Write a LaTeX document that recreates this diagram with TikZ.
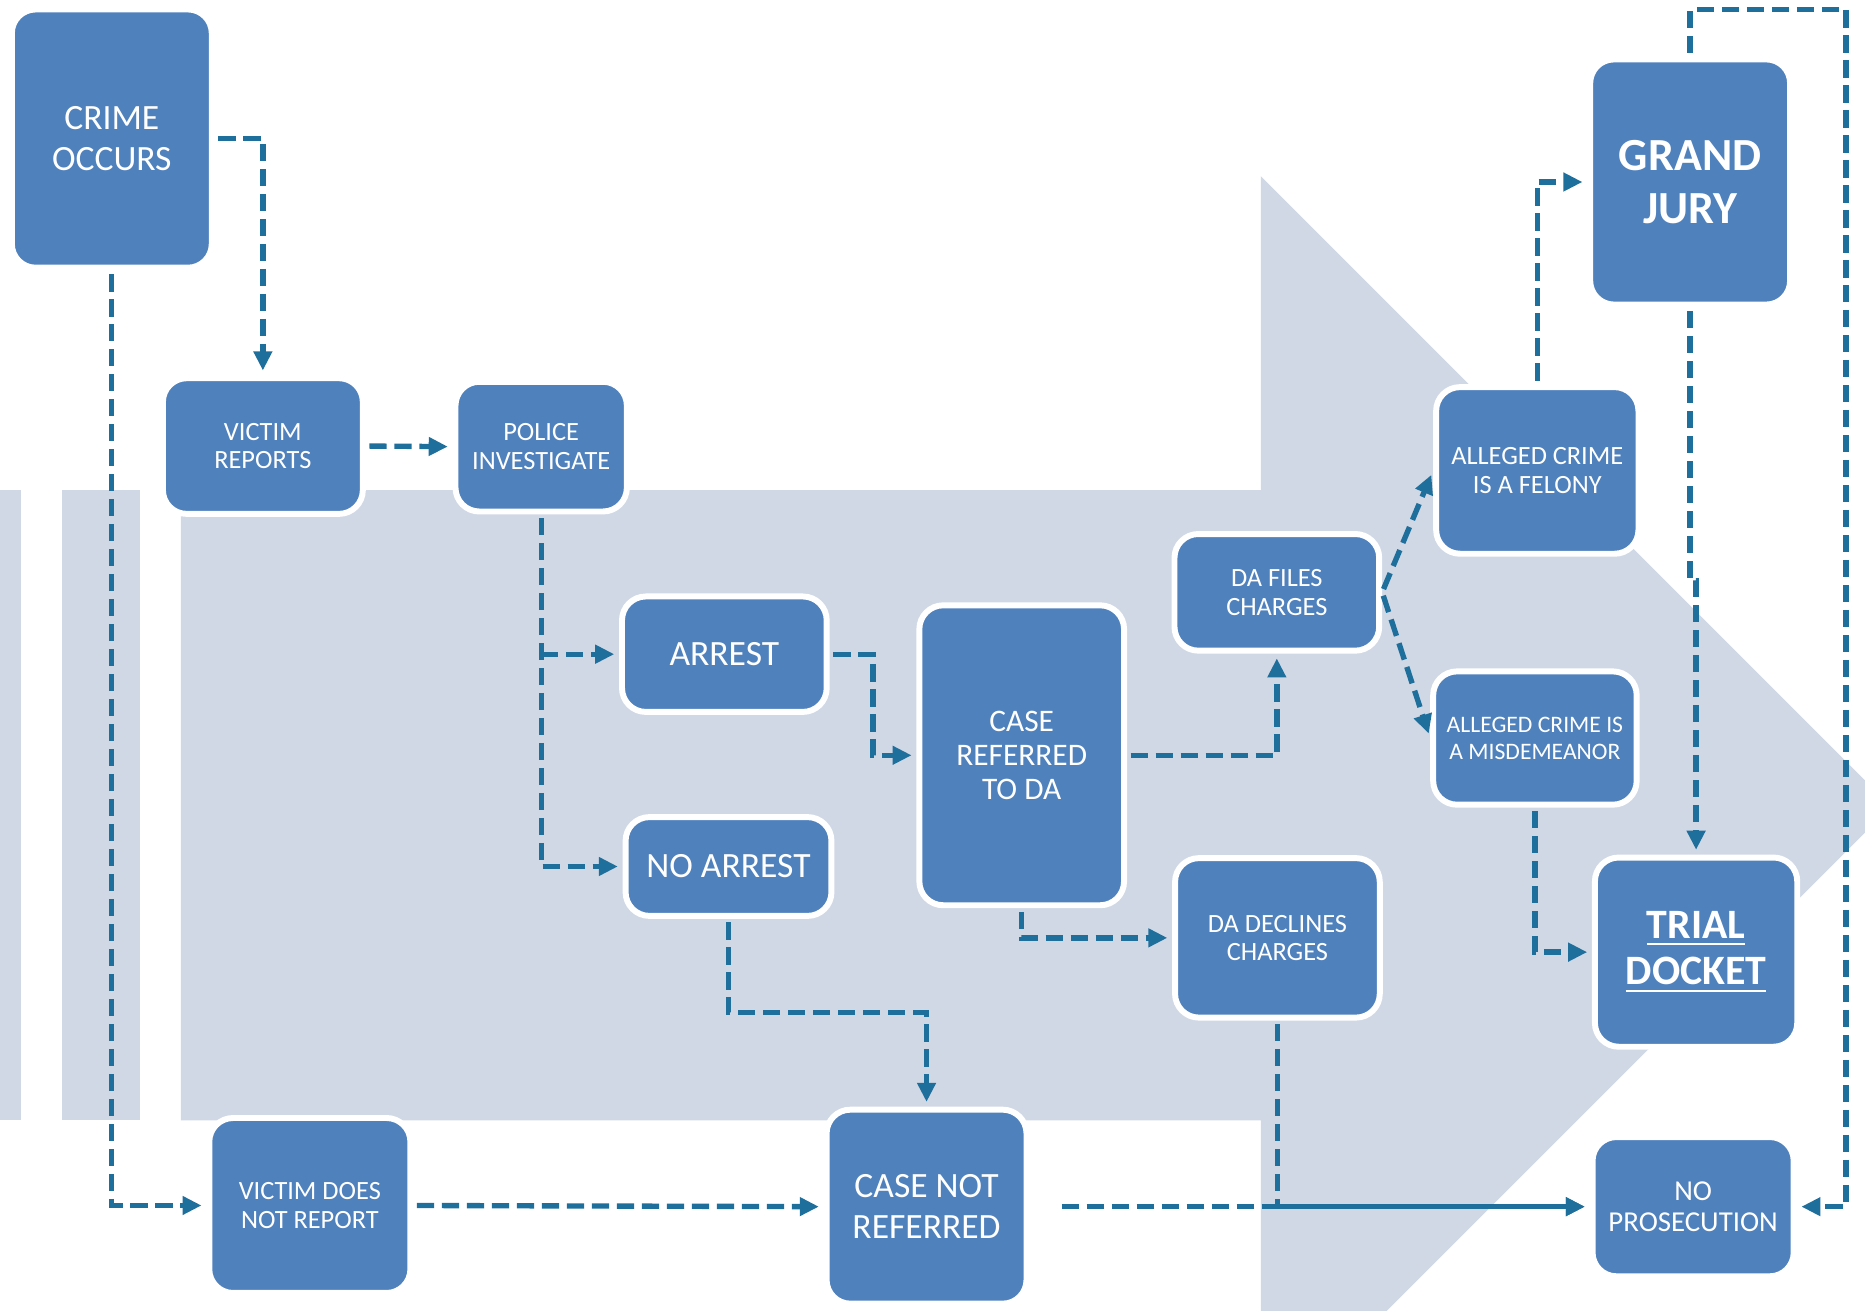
\documentclass[tikz,border=0pt]{standalone}
\usepackage{fontspec}
\setmainfont{Carlito}
\usetikzlibrary{arrows.meta,calc}
\definecolor{boxblue}{RGB}{79,129,189}
\definecolor{flowblue}{RGB}{31,111,156}
\definecolor{bgarrow}{RGB}{208,216,230}

\begin{document}
\begin{tikzpicture}[x=0.01cm,y=-0.01cm,
    box/.style={draw=white,line width=0.05cm,fill=boxblue,rounded corners=0.2cm,
      text=white,align=center,inner sep=0pt},
    small/.style={font=\fontsize{6.3}{6.8}\selectfont},
    big/.style={font=\fontsize{8.5}{9.7}\selectfont},
    flow/.style={draw=flowblue,line width=0.045cm,dash pattern=on 0.145cm off 0.065cm,
      -{Triangle[length=0.16cm,width=0.15cm]},shorten <=0.03cm,shorten >=0.04cm}]
  \useasboundingbox (0,0) rectangle (1568,1102);
  % big arrow behind the boxes
  \begin{scope}
    \clip (0,0) rectangle (1568,1102);
    \fill[bgarrow] (0,412) rectangle (18,942);
    \fill[bgarrow] (52,412) rectangle (118,942);
    \fill[bgarrow] (152,412) -- (1060,412) -- (1060,148) -- (1590,678)
      -- (1060,1208) -- (1060,942) -- (152,942) -- cycle;
  \end{scope}

  \node[box,big,minimum width=1.68cm,minimum height=2.17cm] (crime) at (94,116.5) {CRIME\\OCCURS};
  \node[box,small,minimum width=1.68cm,minimum height=1.14cm] (vreport) at (221,375) {VICTIM\\REPORTS};
  \node[box,small,minimum width=1.44cm,minimum height=1.09cm] (police) at (455,375.5) {POLICE\\INVESTIGATE};
  \node[box,big,minimum width=1.72cm,minimum height=0.97cm] (arrest) at (609,550) {ARREST};
  \node[box,big,minimum width=1.73cm,minimum height=0.83cm] (noarrest) at (612.5,728.5) {NO ARREST};
  \node[box,font=\fontsize{7.5}{8.1}\selectfont,minimum width=1.72cm,minimum height=2.52cm] (case) at (859,635) {CASE\\REFERRED\\TO DA};
  \node[box,small,minimum width=1.72cm,minimum height=0.98cm] (dafiles) at (1073.5,498) {DA FILES\\CHARGES};
  \node[box,small,minimum width=1.72cm,minimum height=1.34cm] (dadecl) at (1074,788.5) {DA DECLINES\\CHARGES};
  \node[box,small,minimum width=1.70cm,minimum height=1.40cm] (felony) at (1292.5,395.5) {ALLEGED CRIME\\IS A FELONY};
  \node[box,font=\fontsize{5.65}{6.5}\selectfont,minimum width=1.71cm,minimum height=1.12cm] (misd) at (1290.5,620.5) {ALLEGED CRIME IS\\A MISDEMEANOR};
  \node[box,font=\fontsize{11}{12.5}\selectfont\bfseries,minimum width=1.68cm,minimum height=2.06cm] (grand) at (1421,153) {GRAND\\JURY};
  \node[box,font=\fontsize{10}{11.1}\selectfont\bfseries,minimum width=1.70cm,minimum height=1.59cm] (trial) at (1426,800.5) {\underline{TRIAL}\\\underline{DOCKET}};
  \node[box,font=\fontsize{6.9}{7.4}\selectfont,minimum width=1.69cm,minimum height=1.17cm] (noprose) at (1423.5,1014.5) {NO\\PROSECUTION};
  \node[box,font=\fontsize{6.3}{7.1}\selectfont,minimum width=1.69cm,minimum height=1.47cm] (vnot) at (260.5,1013.5) {VICTIM DOES\\NOT REPORT};
  \node[box,big,minimum width=1.68cm,minimum height=1.63cm] (cnot) at (779,1014.5) {CASE NOT\\REFERRED};

  \coordinate (split) at (police.south |- arrest.west);
  \coordinate (loop) at (1552,8);

  \draw[flow] (crime.east) -| (vreport.north);
  \draw[flow] (crime.south) |- (vnot.west);
  \draw[flow] (vreport.east) -- (police.west);
  \draw[flow] (police.south) |- (noarrest.west);
  \draw[flow,shorten <=0pt] (split) -- (arrest.west);
  \draw[flow] (arrest.east) -| ($(arrest.east)!0.5!(case.west)$) |- (case.west);
  \draw[flow] (case.east) -| (dafiles.south);
  \draw[flow] (case.south) |- (dadecl.west);
  \draw[flow] (dafiles.east) -- (felony.west);
  \draw[flow] (dafiles.east) -- (misd.west);
  \draw[flow] (felony.north) |- (grand.west);
  \draw[flow] (grand.south) -- (grand.south |- 0,488) -- (trial.north |- 0,488) -- (trial.north);
  \draw[flow] (grand.north) |- (loop) |- (noprose.east);
  \draw[flow] (misd.south) |- (trial.west);
  \draw[flow] (noarrest.south) |- ($(noarrest.south)!0.5!(cnot.north)$) -| (cnot.north);
  \draw[flow] (vnot.east) -- (cnot.west);
  \draw[flow,shorten <=0.27cm] (cnot.east) -- (noprose.west);
  \draw[flow] (dadecl.south) |- (noprose.west);
\end{tikzpicture}
\end{document}
